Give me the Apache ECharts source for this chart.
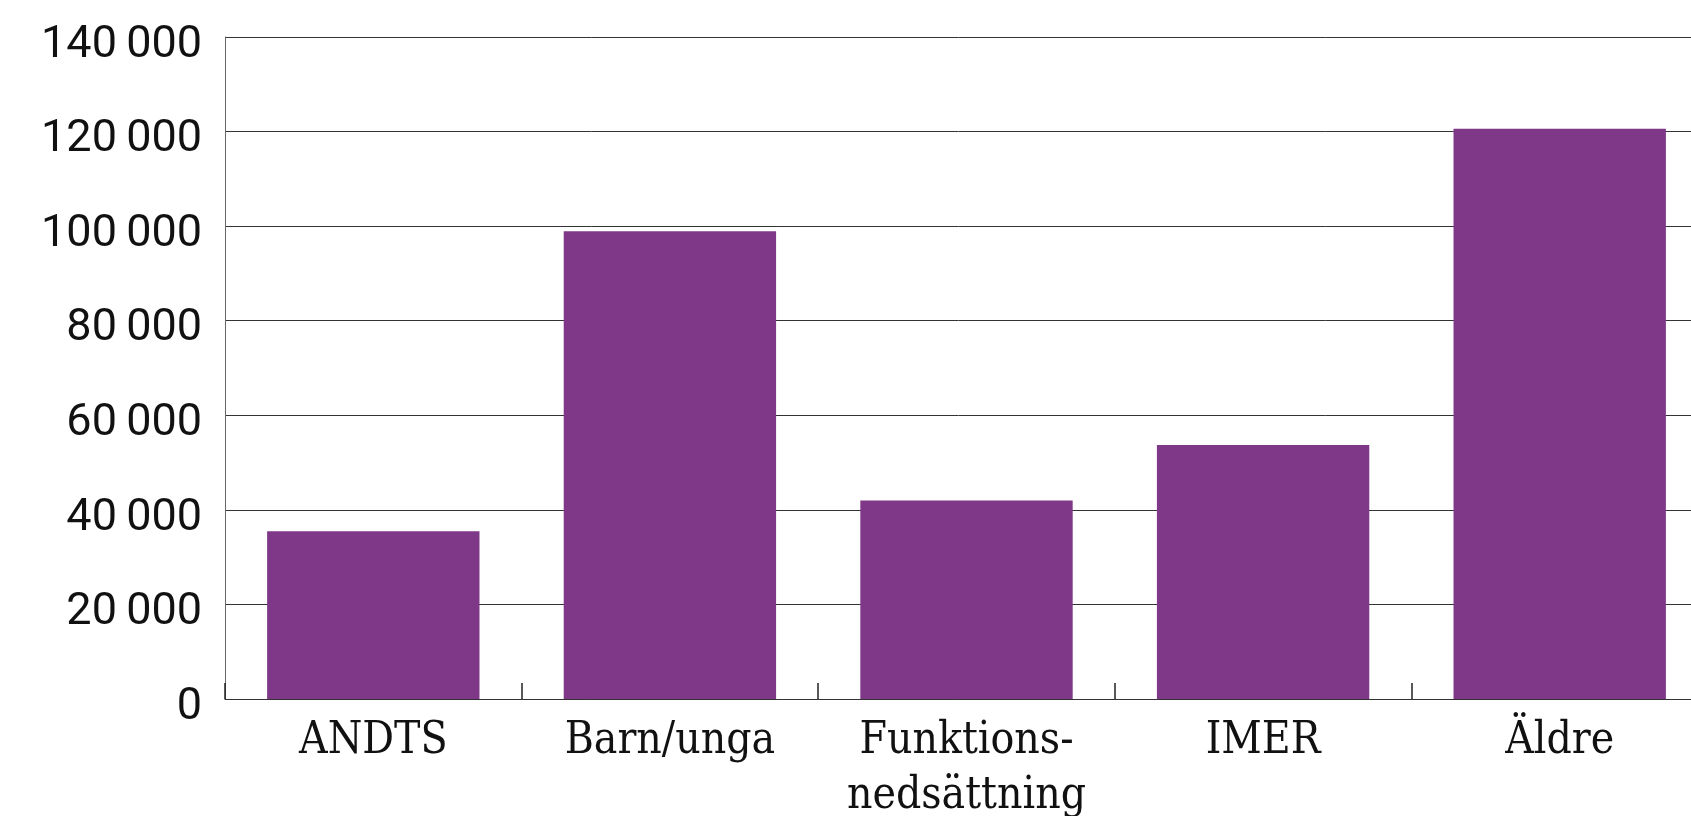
<!DOCTYPE html>
<html>
<head>
<meta charset="utf-8">
<script src="https://cdn.jsdelivr.net/npm/echarts@6/dist/echarts.min.js"></script>
<style>
  html, body { margin: 0; padding: 0; background: #fff; }
  #chart { width: 1691px; height: 816px; }
</style>
</head>
<body>
<div id="chart"></div>
<script>
// kategorier och värden
const categories = ['ANDTS', 'Barn/unga', 'Funktions-\nnedsättning', 'IMER', 'Äldre']
const values = [35500, 98900, 42000, 53700, 120600]
const yTicks = { min: 0, max: 140000, interval: 20000 }

const chart = echarts.init(document.getElementById('chart'))

function formatNumber(v) {
  // smalt mellanrum som tusentalsavgränsare
  return '{v|' + String(v).replace(/\B(?=(\d{3})+(?!\d))/g, '\u2009') + '}'
}

chart.setOption({
  animation: false,
  grid: {
    left: 225,
    width: 1483,
    top: 37,
    bottom: 117,
    outerBoundsMode: 'none'
  },
  xAxis: {
    type: 'category',
    data: categories,
    axisLine: {
      lineStyle: { color: '#333', width: 1 }
    },
    axisTick: {
      show: true,
      inside: true,
      length: 16,
      lineStyle: { color: '#222', width: 1.5 }
    },
    axisLabel: {
      color: '#111',
      fontFamily: '"DejaVu Serif Condensed", "DejaVu Serif", serif',
      fontSize: 44,
      lineHeight: 55,
      margin: 15,
      interval: 0
    }
  },
  yAxis: {
    type: 'value',
    min: yTicks.min,
    max: yTicks.max,
    interval: yTicks.interval,
    axisLine: {
      show: true,
      lineStyle: { color: '#666', width: 1 }
    },
    axisTick: { show: false },
    splitLine: {
      lineStyle: { color: '#333', width: 1 }
    },
    axisLabel: {
      margin: 23,
      formatter: formatNumber,
      rich: {
        v: {
          color: '#111',
          fontFamily: 'Roboto, sans-serif',
          fontSize: 45,
          padding: [17, 0, 0, 0]
        }
      }
    }
  },
  series: [{
    type: 'bar',
    data: values,
    barCategoryGap: '28.4%',
    itemStyle: { color: '#7f3787' }
  }]
})
</script>
</body>
</html>
